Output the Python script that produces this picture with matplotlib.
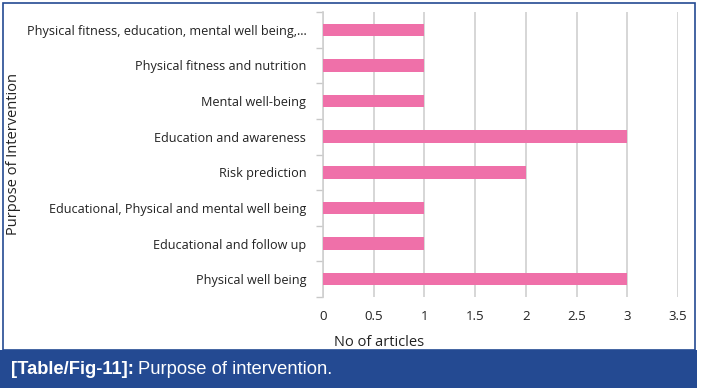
import matplotlib
matplotlib.use("Agg")
import matplotlib.pyplot as plt
from matplotlib.patches import Rectangle

# Categories listed bottom -> top (as barh draws them)
categories = [
    "Physical well being",
    "Educational and follow up",
    "Educational, Physical and mental well being",
    "Risk prediction",
    "Education and awareness",
    "Mental well-being",
    "Physical fitness and nutrition",
    "Physical fitness, education, mental well being,...",
]
articles = [3, 1, 1, 2, 3, 1, 1, 1]
x_ticks = [0, 0.5, 1, 1.5, 2, 2.5, 3, 3.5]
x_tick_labels = ["0", "0.5", "1", "1.5", "2", "2.5", "3", "3.5"]

BAR_COLOR = "#EF70A9"
NAVY = "#244a92"
FONT = "Open Sans"

W, H = 701, 388
fig = plt.figure(figsize=(W / 100, H / 100), dpi=100)
fig.patch.set_facecolor("white")

# axes in pixel coordinates: left 323, right 678 (=3.5), top 12, bottom 297
ax = fig.add_axes([323 / W, 1 - 297 / H, (678 - 323) / W, (297 - 12) / H])

pos = list(range(len(categories)))
ax.barh(pos, articles, height=0.35, color=BAR_COLOR, zorder=3)
ax.set_ylim(-0.5, len(categories) - 0.5)
ax.set_xlim(0, 3.5)

ax.set_xticks(x_ticks)
ax.set_xticklabels(x_tick_labels, fontsize=9.5, family=FONT, color="#222222")
ax.tick_params(axis="x", length=0, pad=9)
ax.grid(axis="x", color="#d0d0d0", linewidth=1.2, zorder=0)

ax.set_yticks(pos)
ax.set_yticklabels(categories, fontsize=9.1, family=FONT, color="#222222")
ax.set_yticks([p - 0.5 for p in range(len(categories) + 1)], minor=True)
ax.tick_params(axis="y", which="major", length=0, pad=12)
ax.tick_params(axis="y", which="minor", length=5, color="#c8c8c8", width=1)

for side in ["top", "right", "bottom"]:
    ax.spines[side].set_visible(False)
ax.spines["left"].set_color("#d0d0d0")
ax.spines["left"].set_linewidth(1.2)

fig.text(334 / W, 1 - 342 / H, "No of articles", fontsize=10.5, family=FONT,
         color="#222222", ha="left", va="center")
fig.text(14 / W, 1 - 154 / H, "Purpose of Intervention", fontsize=10.5,
         family=FONT, color="#222222", rotation=90, ha="center", va="center")

# outer frame and caption band
fig.patches.append(Rectangle((3 / W, 1 - 350 / H), 692 / W, 347 / H,
                             transform=fig.transFigure, fill=False,
                             edgecolor=NAVY, linewidth=1.2))
fig.patches.append(Rectangle((0, 0), 697 / W, 38 / H,
                             transform=fig.transFigure, facecolor=NAVY,
                             edgecolor="none"))
t = fig.text(11 / W, 1 - 369 / H, "[Table/Fig-11]:", fontsize=13.2,
             family="Liberation Sans", weight="bold", color="white",
             ha="left", va="center")
fig.canvas.draw()
bb = t.get_window_extent()
fig.text((bb.x1 + 4) / W, 1 - 369 / H, "Purpose of intervention.",
         fontsize=13.2, family="Liberation Sans", color="white",
         ha="left", va="center")

fig.savefig("out.png", dpi=100)
